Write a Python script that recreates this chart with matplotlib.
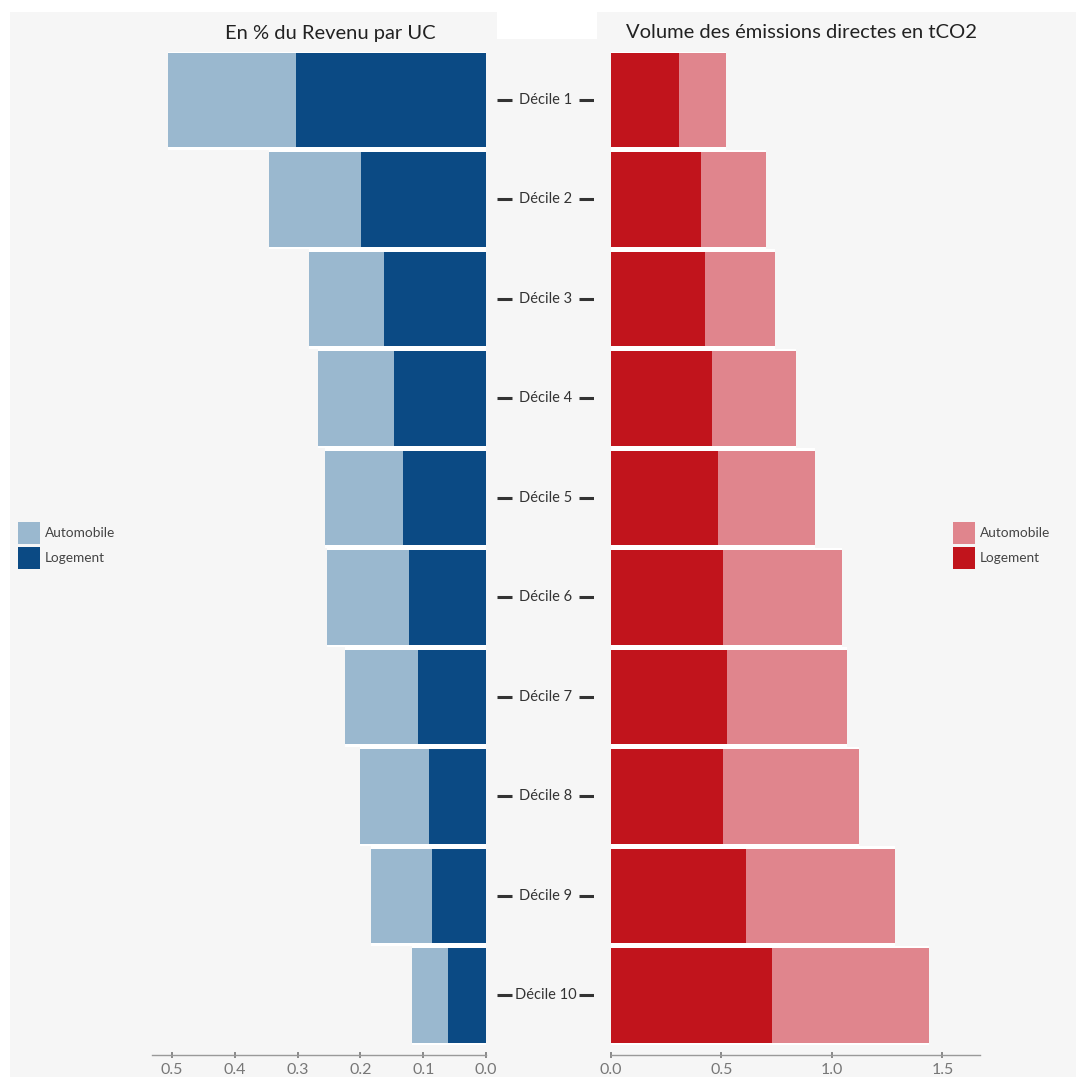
import matplotlib
matplotlib.use("Agg")
import matplotlib.pyplot as plt
import matplotlib.patches as mpatches
import numpy as np

plt.rcParams['font.family'] = ['Lato', 'DejaVu Sans']

deciles = ["Décile %d" % i for i in range(1, 11)]
revenu_logement = [0.302, 0.199, 0.163, 0.146, 0.133, 0.122, 0.109, 0.090, 0.086, 0.060]
revenu_automobile = [0.205, 0.147, 0.119, 0.121, 0.123, 0.132, 0.115, 0.111, 0.097, 0.058]
emis_logement = [0.306, 0.406, 0.427, 0.457, 0.484, 0.507, 0.525, 0.505, 0.611, 0.730]
emis_automobile = [0.214, 0.295, 0.315, 0.380, 0.439, 0.538, 0.543, 0.616, 0.673, 0.709]
left_ticks = [0.5, 0.4, 0.3, 0.2, 0.1, 0.0]
right_ticks = [0.0, 0.5, 1.0, 1.5]
left_title = "En % du Revenu par UC"
right_title = "Volume des émissions directes en tCO2"
series = ["Automobile", "Logement"]

W, H = 1076, 1077
BG = "#f6f6f6"
DARK_BLUE = "#0b4a84"
LIGHT_BLUE = "#9ab8cf"
RED = "#c1141c"
PINK = "#e0858d"

fig = plt.figure(figsize=(W / 100, H / 100), dpi=100, facecolor="white")

def px(x0, y0, x1, y1):
    return [x0 / W, 1 - y1 / H, (x1 - x0) / W, (y1 - y0) / H]

# background panels
fig.patches.append(mpatches.Rectangle((10 / W, 0), 1, 1 - 12 / H, transform=fig.transFigure,
                                      facecolor=BG, edgecolor="none", zorder=-10))
fig.patches.append(mpatches.Rectangle((497 / W, 1 - 39 / H), 100 / W, 27 / H, transform=fig.transFigure,
                                      facecolor="white", edgecolor="none", zorder=-9))

ylim = (9.598, -0.482)
y = np.arange(len(deciles))
h = 0.95

axL = fig.add_axes(px(152, 52, 486, 1055))
axR = fig.add_axes(px(611, 52, 980, 1055))
axC = fig.add_axes(px(497, 52, 594, 1055))

for ax in (axL, axR, axC):
    ax.set_facecolor("none")
    ax.set_ylim(*ylim)
    for s in ("top", "left", "right"):
        ax.spines[s].set_visible(False)
    ax.set_yticks([])

rl = np.array(revenu_logement)
ra = np.array(revenu_automobile)
el = np.array(emis_logement)
ea = np.array(emis_automobile)

# left
axL.barh(y, rl + ra, height=1.0, color="white", zorder=1)
axL.barh(y, rl, height=h, color=DARK_BLUE, zorder=2, label=series[1])
axL.barh(y, ra, left=rl, height=h, color=LIGHT_BLUE, zorder=2, label=series[0])
axL.set_xlim(0.532, 0.0)
axL.set_xticks(left_ticks)
axL.set_xticklabels(["%.1f" % t for t in left_ticks])

# right
axR.barh(y, el + ea, height=1.0, color="white", zorder=1)
axR.barh(y, el, height=h, color=RED, zorder=2, label=series[1])
axR.barh(y, ea, left=el, height=h, color=PINK, zorder=2, label=series[0])
axR.set_xlim(0.0, 1.67)
axR.set_xticks(right_ticks)
axR.set_xticklabels(["%.1f" % t for t in right_ticks])

for ax in (axL, axR):
    ax.spines["bottom"].set_color("#999999")
    ax.spines["bottom"].set_linewidth(1.0)
    ax.tick_params(axis="x", direction="inout", length=5, width=1.2, color="#777777",
                   labelsize=11.5, labelcolor="#777777", pad=3)

# center labels
axC.set_xlim(0, 1)
axC.axis("off")
for i, lab in enumerate(deciles):
    axC.hlines(i, 0.0, 0.15, color="#333333", linewidth=2.2)
    axC.hlines(i, 0.85, 1.0, color="#333333", linewidth=2.2)
    axC.text(0.50, i, lab, ha="center", va="center", fontsize=10.5, color="#333333")

# titles
fig.text(330 / W, 1 - 33 / H, left_title, ha="center", va="center", fontsize=14.5, color="#222222")
fig.text(801 / W, 1 - 33 / H, right_title, ha="center", va="center", fontsize=14.5, color="#222222")

# legends
def legend(x, colors, labels):
    for k, (c, lab) in enumerate(zip(colors, labels)):
        y0 = 522 + k * 25
        fig.patches.append(mpatches.Rectangle((x / W, 1 - (y0 + 22) / H), 22 / W, 22 / H,
                                              transform=fig.transFigure, facecolor=c, edgecolor="none"))
        fig.text((x + 27) / W, 1 - (y0 + 11) / H, lab, ha="left", va="center", fontsize=9.8, color="#444444")

legend(18, [LIGHT_BLUE, DARK_BLUE], series)
legend(953, [PINK, RED], series)

fig.savefig("out.png", dpi=100, facecolor="white")
